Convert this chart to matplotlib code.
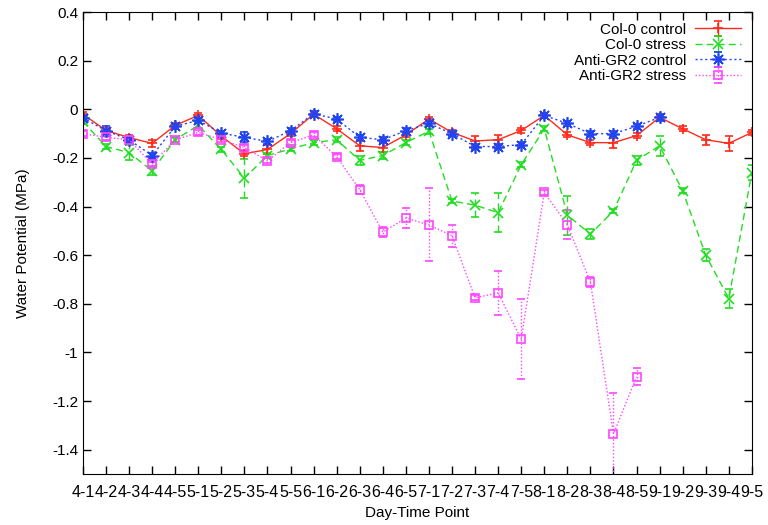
import matplotlib
matplotlib.use("Agg")
import matplotlib.pyplot as plt
import numpy as np

plt.rcParams['font.family'] = ['Liberation Sans', 'DejaVu Sans']

# day-time points
labels = [f"{d}-{t}" for d in range(4, 10) for t in range(1, 6)]

col0_control = [-0.02, -0.087, -0.116, -0.14, -0.066, -0.025, -0.11, -0.183, -0.165, -0.10,
                -0.02, -0.08, -0.15, -0.157, -0.105, -0.04, -0.095, -0.13, -0.125, -0.087,
                -0.025, -0.105, -0.137, -0.137, -0.108, -0.033, -0.08, -0.125, -0.14, -0.095]
col0_control_err = [0.01, 0.01, 0.01, 0.015, 0.01, 0.01, 0.01, 0.01, 0.02, 0.01,
                    0.01, 0.01, 0.02, 0.02, 0.01, 0.01, 0.01, 0.02, 0.02, 0.01,
                    0.01, 0.01, 0.01, 0.02, 0.01, 0.01, 0.01, 0.02, 0.03, 0.01]

col0_stress = [-0.05, -0.153, -0.178, -0.253, -0.125, -0.066, -0.165, -0.283, -0.19, -0.163,
               -0.137, -0.125, -0.21, -0.19, -0.137, -0.09, -0.377, -0.394, -0.425, -0.228,
               -0.08, -0.435, -0.513, -0.418, -0.21, -0.15, -0.335, -0.6, -0.778, -0.26]
col0_stress_err = [0.01, 0.01, 0.03, 0.015, 0.01, 0.01, 0.01, 0.08, 0.01, 0.01,
                   0.01, 0.01, 0.02, 0.015, 0.01, 0.01, 0.01, 0.05, 0.08, 0.01,
                   0.01, 0.08, 0.02, 0.01, 0.02, 0.04, 0.01, 0.025, 0.04, 0.03]

gr2_control = [-0.035, -0.088, -0.125, -0.19, -0.07, -0.045, -0.098, -0.115, -0.132, -0.088,
               -0.018, -0.04, -0.115, -0.125, -0.088, -0.058, -0.1, -0.153, -0.153, -0.145,
               -0.025, -0.058, -0.1, -0.1, -0.07, -0.033]
gr2_control_err = [0.01, 0.02, 0.01, 0.01, 0.01, 0.01, 0.01, 0.02, 0.01, 0.01,
                   0.01, 0.01, 0.01, 0.01, 0.01, 0.01, 0.01, 0.01, 0.01, 0.01,
                   0.01, 0.01, 0.01, 0.01, 0.01, 0.015]

gr2_stress = [-0.1, -0.115, -0.125, -0.225, -0.125, -0.095, -0.125, -0.157, -0.212, -0.137,
              -0.105, -0.195, -0.33, -0.505, -0.447, -0.475, -0.52, -0.775, -0.755, -0.945,
              -0.342, -0.475, -0.71, -1.335, -1.1]
gr2_stress_err = [0.01, 0.01, 0.01, 0.01, 0.01, 0.01, 0.01, 0.01, 0.01, 0.01,
                  0.01, 0.01, 0.02, 0.02, 0.04, 0.15, 0.045, 0.01, 0.09, 0.165,
                  0.01, 0.06, 0.02, 0.17, 0.035]

fig = plt.figure(figsize=(7.68, 5.25), dpi=100)
ax = fig.add_axes([0.108, 0.097, 0.871, 0.88])

x = np.arange(len(labels))

series = [
    ("Col-0 control", col0_control, col0_control_err, '#ff2a1a', '-', '+', 7),
    ("Col-0 stress", col0_stress, col0_stress_err, '#22dd22', (0, (5, 3)), 'x', 7),
    ("Anti-GR2 control", gr2_control, gr2_control_err, '#2244ee', (0, (1.5, 2)), (8, 2, 0), 9),
    ("Anti-GR2 stress", gr2_stress, gr2_stress_err, '#ff44ff', (0, (1, 1.5)), 's', 6),
]

for name, vals, errs, color, ls, marker, ms in series:
    xs = x[:len(vals)]
    eb = ax.errorbar(xs, vals, yerr=errs, color=color, linestyle=ls, linewidth=1,
                     marker=marker, markersize=ms,
                     markerfacecolor='none' if marker == 's' else color,
                     markeredgewidth=1.2, capsize=3, elinewidth=1, label=name)
    for bar in eb[2]:
        bar.set_linestyle(ls)

ax.set_xlim(0, len(labels) - 1)
ax.set_ylim(-1.5, 0.4)
ax.set_xticks(x)
ax.set_xticklabels(labels, fontsize=11.5)
ax.set_yticks([0.4, 0.2, 0, -0.2, -0.4, -0.6, -0.8, -1.0, -1.2, -1.4])
ax.set_yticklabels(['0.4', '0.2', '0', '-0.2', '-0.4', '-0.6', '-0.8', '-1', '-1.2', '-1.4'], fontsize=11)
ax.tick_params(direction='in', top=True, right=True, length=6, width=1)
ax.tick_params(axis='x', pad=8)
ax.set_xlabel("Day-Time Point", fontsize=11)
ax.set_ylabel("Water Potential (MPa)", fontsize=11, labelpad=16)

ax.legend(loc='upper right', frameon=False, markerfirst=False, fontsize=11,
          handlelength=3, borderaxespad=0.3, labelspacing=0.1, handletextpad=0.6)

fig.savefig("out.png", dpi=100)
